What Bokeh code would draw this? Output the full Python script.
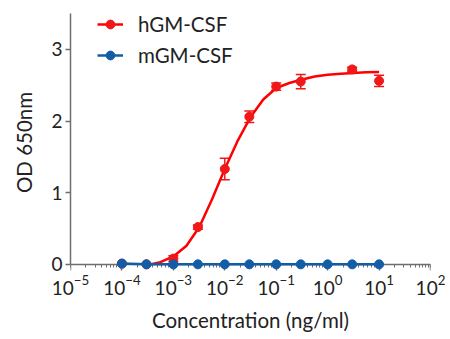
from bokeh.plotting import figure
from bokeh.models import (Range1d, LogTicker, FixedTicker, Legend, LegendItem,
                          Whisker, ColumnDataSource, TeeHead, LogAxis)
from bokeh.embed import file_html
from bokeh.resources import INLINE

# ---- data ----
h_conc = [1e-4, 3e-4, 1e-3, 3e-3, 1e-2, 3e-2, 1e-1, 3e-1, 3, 10]
h_od = [0.01, 0.0, 0.08, 0.52, 1.33, 2.06, 2.48, 2.55, 2.72, 2.56]
h_err = [0.01, 0.0, 0.04, 0.03, 0.15, 0.08, 0.05, 0.10, 0.03, 0.08]

m_conc = [1e-4, 3e-4, 1e-3, 3e-3, 1e-2, 3e-2, 1e-1, 3e-1, 1, 3, 10]
m_od = [0.01, 0.0, 0.0, 0.0, 0.0, 0.0, 0.0, 0.0, 0.0, 0.0, 0.0]

# fitted curve (hGM-CSF)
fit_conc = [3.7e-4, 5.6e-4, 1e-3, 1.8e-3, 3.2e-3, 5.6e-3, 1e-2, 1.8e-2, 3.2e-2,
            5.6e-2, 0.1, 0.18, 0.32, 0.56, 1, 1.8, 3.2, 5.6, 10]
fit_od = [0.0, 0.03, 0.11, 0.26, 0.52, 0.90, 1.33, 1.73, 2.06,
          2.30, 2.46, 2.53, 2.58, 2.62, 2.645, 2.66, 2.67, 2.68, 2.685]

x_label = "Concentration (ng/ml)"
y_label = "OD 650nm"
y_ticks = [0, 1, 2, 3]

RED = "#f01818"
RED_LINE = "#ff0000"
BLUE = "#135ca6"
AXIS = "#6e6e6e"
TEXT = "#222222"
FONT = "Lato"

p = figure(width=450, height=339, x_axis_type="log",
           x_range=Range1d(1e-5, 1e2), y_range=Range1d(-0.1, 3.5),
           output_backend="svg", toolbar_location=None,
           min_border_left=70, min_border_right=20, min_border_top=13,
           min_border_bottom=68)
p.outline_line_color = None
p.xgrid.visible = False
p.ygrid.visible = False
p.background_fill_color = "white"
p.border_fill_color = "white"

# x axis line + ticks sit at OD = 0, under the markers
xa = p.xaxis[0]
xa.fixed_location = 0
xa.level = "underlay"
xa.ticker = LogTicker(num_minor_ticks=10)
xa.axis_line_color = AXIS
xa.axis_line_width = 1.5
xa.major_tick_line_color = AXIS
xa.major_tick_line_width = 1.5
xa.minor_tick_line_color = AXIS
xa.minor_tick_line_width = 1
xa.major_tick_in = 0
xa.minor_tick_in = 0
xa.major_tick_out = 6
xa.minor_tick_out = 3
xa.major_label_text_color = None
xa.axis_label = None

# x tick labels and title
xl = LogAxis(ticker=LogTicker(num_minor_ticks=10),
             axis_line_color=None, major_tick_line_color=None,
             minor_tick_line_color=None, major_tick_in=0, major_tick_out=0,
             minor_tick_in=0, minor_tick_out=0,
             major_label_standoff=3,
             major_label_text_font=FONT, major_label_text_font_size="19px",
             major_label_text_color=TEXT,
             axis_label=x_label, axis_label_standoff=10,
             axis_label_text_font=FONT, axis_label_text_font_size="20.5px",
             axis_label_text_font_style="normal", axis_label_text_color=TEXT)
p.add_layout(xl, "below")

# y axis
ya = p.yaxis[0]
ya.bounds = (0, 3.5)
ya.ticker = FixedTicker(ticks=y_ticks)
ya.axis_line_color = AXIS
ya.axis_line_width = 1.5
ya.major_tick_line_color = AXIS
ya.major_tick_line_width = 1.5
ya.minor_tick_line_color = None
ya.major_tick_in = 0
ya.major_tick_out = 5
ya.major_label_standoff = 3
ya.major_label_text_font = FONT
ya.major_label_text_font_size = "19px"
ya.major_label_text_color = TEXT
ya.axis_label = y_label
ya.axis_label_standoff = 12
ya.axis_label_text_font = FONT
ya.axis_label_text_font_size = "20.5px"
ya.axis_label_text_font_style = "normal"
ya.axis_label_text_color = TEXT

# hGM-CSF
fit_line = p.line(fit_conc, fit_od, line_color=RED_LINE, line_width=2.5)
src = ColumnDataSource(dict(x=h_conc,
                            upper=[v + e for v, e in zip(h_od, h_err)],
                            lower=[v - e for v, e in zip(h_od, h_err)]))
wh = Whisker(source=src, base="x", upper="upper", lower="lower",
             line_color=RED, line_width=1.5,
             upper_head=TeeHead(size=10, line_color=RED, line_width=1.5),
             lower_head=TeeHead(size=10, line_color=RED, line_width=1.5))
p.add_layout(wh)
h_sc = p.scatter(h_conc, h_od, size=9, fill_color=RED, line_color=RED)

# mGM-CSF
m_line = p.line(m_conc, m_od, line_color=BLUE, line_width=2.5)
m_sc = p.scatter(m_conc, m_od, size=9, fill_color=BLUE, line_color=BLUE)

legend = Legend(items=[LegendItem(label="hGM-CSF", renderers=[fit_line, h_sc]),
                       LegendItem(label="mGM-CSF", renderers=[m_line, m_sc])],
                location=(27, 204), orientation="vertical",
                border_line_color=None, background_fill_alpha=0,
                padding=0, margin=0, spacing=7,
                glyph_width=26, glyph_height=22, label_height=22,
                label_standoff=15, label_text_font=FONT,
                label_text_font_size="20.5px", label_text_color=TEXT)
p.add_layout(legend)

open("out.html", "w").write(file_html(p, INLINE))
